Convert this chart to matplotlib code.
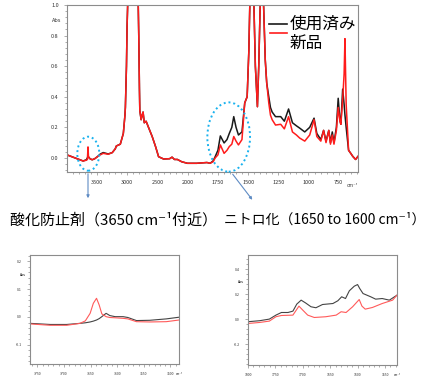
import numpy as np
import matplotlib.pyplot as plt
from matplotlib.patches import Ellipse
from matplotlib.ticker import FixedLocator, MultipleLocator, FormatStrFormatter

plt.rcParams['font.family'] = ['Noto Sans CJK JP', 'DejaVu Sans']

# ---- main spectrum ----
wn_main = [4000, 3900, 3800, 3733, 3680, 3662, 3652, 3644, 3620, 3583,
           3540, 3500, 3450, 3400, 3317, 3250, 3200, 3183, 3117, 3067,
           3040, 3033, 3015, 3005, 2995, 2820, 2811, 2800, 2794, 2772,
           2755, 2740, 2720, 2690, 2650, 2589, 2533, 2483, 2400, 2300,
           2260, 2220, 2172, 2100, 2005, 1926, 1841, 1815, 1790, 1773,
           1750, 1730, 1699, 1675, 1656, 1635, 1619, 1600, 1580, 1551,
           1528, 1508, 1494, 1486, 1452, 1440, 1423, 1412, 1400, 1372,
           1358, 1346, 1329, 1315, 1301, 1273, 1230, 1200, 1165, 1133,
           1100, 1073, 1031, 990, 954, 931, 898, 875, 855, 832,
           818, 803, 789, 769, 754, 740, 732, 717, 705, 698,
           688, 668, 650, 633, 610, 590]
abs_used = [0.02, 0.005, -0.01, -0.02, -0.012, 0.0, 0.012, 0.008, -0.005, -0.012,
            -0.005, 0.007, 0.025, 0.035, 0.026, 0.035, 0.06, 0.078, 0.09, 0.16,
            0.28, 0.33, 0.6, 0.86, 1.0, 1.0, 0.79, 0.45, 0.31, 0.25,
            0.28, 0.30, 0.23, 0.24, 0.20, 0.14, 0.074, 0.008, -0.007, -0.005,
            0.005, -0.01, -0.01, -0.025, -0.035, -0.035, -0.03, -0.035, -0.02, 0.008,
            0.05, 0.144, 0.098, 0.12, 0.16, 0.20, 0.27, 0.20, 0.15, 0.17,
            0.36, 0.40, 0.70, 1.0, 1.0, 0.6, 0.335, 0.6, 1.0, 1.0,
            0.64, 0.49, 0.40, 0.33, 0.30, 0.27, 0.27, 0.24, 0.32, 0.23,
            0.21, 0.195, 0.17, 0.20, 0.26, 0.16, 0.12, 0.18, 0.11, 0.18,
            0.10, 0.17, 0.10, 0.20, 0.39, 0.25, 0.22, 0.45, 0.35, 0.28,
            0.20, 0.05, 0.03, 0.01, -0.01, 0.01]
abs_new = [0.02, 0.005, -0.01, -0.02, -0.015, -0.01, 0.072, 0.005, -0.005, -0.012,
           -0.005, 0.007, 0.02, 0.03, 0.024, 0.035, 0.06, 0.078, 0.09, 0.16,
           0.28, 0.33, 0.6, 0.86, 1.0, 1.0, 0.79, 0.45, 0.31, 0.25,
           0.28, 0.30, 0.23, 0.24, 0.20, 0.14, 0.074, 0.008, -0.007, -0.005,
           0.005, -0.01, -0.01, -0.025, -0.035, -0.035, -0.03, -0.035, -0.025, 0.0,
           0.02, 0.085, 0.03, 0.05, 0.074, 0.09, 0.14, 0.11, 0.085, 0.12,
           0.36, 0.40, 0.70, 1.0, 1.0, 0.6, 0.335, 0.6, 1.0, 1.0,
           0.64, 0.49, 0.36, 0.28, 0.25, 0.215, 0.22, 0.19, 0.27, 0.17,
           0.15, 0.13, 0.11, 0.15, 0.25, 0.14, 0.11, 0.18, 0.10, 0.18,
           0.09, 0.15, 0.09, 0.18, 0.33, 0.24, 0.22, 0.38, 0.55, 0.78,
           0.35, 0.05, 0.03, 0.01, -0.01, 0.01]

# ---- zoom on the antioxidant band ----
wn_left = [3764, 3726, 3695, 3670, 3660, 3651, 3645, 3639, 3634, 3629,
           3621, 3614, 3604, 3589, 3580, 3564, 3539, 3508, 3484]
left_used = [-0.023, -0.027, -0.027, -0.023, -0.021, -0.018, -0.015, -0.011, -0.006, 0.001,
             0.013, 0.005, 0.001, 0.001, -0.002, -0.013, -0.012, -0.007, -0.001]
left_new = [-0.025, -0.03, -0.03, -0.023, -0.014, 0.013, 0.049, 0.067, 0.043, 0.011,
            0.001, -0.002, -0.003, -0.005, -0.007, -0.017, -0.018, -0.017, -0.011]

# ---- zoom on the nitration band ----
wn_right_used = [1800, 1779, 1761, 1749, 1739, 1727, 1718, 1711, 1703, 1695,
                 1685, 1676, 1664, 1645, 1636, 1629, 1622, 1615, 1606, 1600,
                 1596, 1590, 1576, 1567, 1555, 1542, 1528]
right_used = [-0.021, -0.013, 0.0, 0.032, 0.053, 0.053, 0.064, 0.12, 0.152, 0.13,
              0.099, 0.091, 0.117, 0.125, 0.147, 0.179, 0.165, 0.227, 0.264, 0.277,
              0.245, 0.205, 0.179, 0.16, 0.165, 0.152, 0.192]
wn_right_new = [1800, 1779, 1761, 1749, 1739, 1718, 1707, 1700, 1691, 1679,
                1658, 1639, 1630, 1621, 1609, 1597, 1592, 1586, 1573, 1555,
                1536, 1528]
right_new = [-0.035, -0.027, -0.016, 0.019, 0.029, 0.032, 0.104, 0.072, 0.032, 0.013,
             0.019, 0.032, 0.059, 0.053, 0.099, 0.157, 0.104, 0.08, 0.093, 0.125,
             0.152, 0.192]

main_ticks = [3500, 3000, 2500, 2000, 1750, 1500, 1250, 1000, 750]
left_xticks = [3750, 3700, 3650, 3600, 3550, 3500]
right_xticks = [1800, 1750, 1700, 1650, 1600, 1550]

C_USED = '#1a1a1a'
C_NEW = '#ff1c1c'
C_SPINE = '#8c8c8c'

W, H = 426, 378


def box(l, t, r, b):
    return [l / W, 1 - b / H, (r - l) / W, (b - t) / H]


def px(x, y):
    return (x / W, 1 - y / H)


# FTIR style x axis: scale doubles below 2000 cm-1
def fwd(x):
    x = np.asarray(x, dtype=float)
    return np.where(x >= 2000, x, 2 * x - 2000)


def inv(y):
    y = np.asarray(y, dtype=float)
    return np.where(y >= 2000, y, (y + 2000) / 2)


def style_axes(ax, fs):
    for sp in ax.spines.values():
        sp.set_color(C_SPINE)
        sp.set_linewidth(0.8)
    ax.tick_params(which='both', direction='out', colors=C_SPINE, width=0.5,
                   labelsize=fs, labelcolor='#333333', top=False, right=False)
    ax.tick_params(which='major', length=2.5)
    ax.tick_params(which='minor', length=1.5)


fig = plt.figure(figsize=(4.26, 3.78), dpi=100)

# main spectrum
ax = fig.add_axes(box(67, 5, 358, 172))
ax.set_xscale('function', functions=(fwd, inv))
ax.plot(wn_main, abs_used, color=C_USED, lw=1.1)
ax.plot(wn_main, abs_new, color=C_NEW, lw=1.1)
ax.set_xlim(4000, 590)
ax.set_ylim(-0.092, 1.0)
ax.xaxis.set_major_locator(FixedLocator(main_ticks))
ax.xaxis.set_minor_locator(FixedLocator(list(range(3900, 2000, -100)) + list(range(2000, 580, -50))))
ax.xaxis.set_major_formatter(FormatStrFormatter('%d'))
ax.yaxis.set_major_locator(MultipleLocator(0.2))
ax.yaxis.set_minor_locator(MultipleLocator(0.04))
ax.yaxis.set_major_formatter(FormatStrFormatter('%.1f'))
style_axes(ax, 4)
ax.text(-0.02, 0.91, 'Abs', transform=ax.transAxes, ha='right', va='center', fontsize=4, color='#333333')
ax.text(0.98, -0.065, 'cm⁻¹', transform=ax.transAxes, ha='center', va='top', fontsize=3.5, color='#333333')

# hand made legend
ax.plot([0.694, 0.756], [0.886, 0.886], transform=ax.transAxes, color=C_USED, lw=1.2)
ax.plot([0.699, 0.756], [0.832, 0.832], transform=ax.transAxes, color=C_NEW, lw=1.2)
ax.text(0.766, 0.886, '使用済み', transform=ax.transAxes, va='center', fontsize=12)
ax.text(0.766, 0.772, '新品', transform=ax.transAxes, va='center', fontsize=12)

# dotted circles + pointers
for cx, cy, w, h in [(88.3, 153.7, 22, 34), (228.7, 137, 42.7, 69.3)]:
    fig.add_artist(Ellipse(px(cx, cy), w / W, h / H, transform=fig.transFigure,
                           fill=False, ls=(0, (1, 1.5)), lw=1.4, ec='#1ab2ee'))
for (x0, y0), (x1, y1) in [((88, 171), (88, 201)), ((231, 172), (254, 202))]:
    ax.annotate('', xy=px(x1, y1), xytext=px(x0, y0), xycoords='figure fraction',
                textcoords='figure fraction',
                arrowprops=dict(arrowstyle='-|>', color='#5f8cc4', lw=0.8, mutation_scale=4))

fig.text(10 / W, 1 - 220 / H, '酸化防止剤（3650 cm⁻¹付近）', fontsize=10.8, va='center')
fig.text(224 / W, 1 - 220 / H, 'ニトロ化（1650 to 1600 cm⁻¹）', fontsize=10, va='center')

# antioxidant zoom
ax1 = fig.add_axes(box(30, 255, 179, 364))
ax1.plot(wn_left, left_used, color='#444444', lw=0.8)
ax1.plot(wn_left, left_new, color='#ff5a5a', lw=0.8)
ax1.set_xlim(3764, 3484)
ax1.set_ylim(-0.169, 0.2225)
ax1.xaxis.set_major_locator(FixedLocator(left_xticks))
ax1.xaxis.set_minor_locator(MultipleLocator(10))
ax1.yaxis.set_major_locator(FixedLocator([0.2, 0.1, 0.0, -0.1]))
ax1.yaxis.set_minor_locator(MultipleLocator(0.02))
ax1.yaxis.set_major_formatter(FormatStrFormatter('%.1f'))
style_axes(ax1, 2.5)
ax1.text(-0.03, 0.815, 'Abs', transform=ax1.transAxes, ha='right', va='center', fontsize=2.5)
ax1.text(1.0, -0.07, 'cm⁻¹', transform=ax1.transAxes, ha='center', va='top', fontsize=2.2)

# nitration zoom
ax2 = fig.add_axes(box(248, 255, 397, 365))
ax2.plot(wn_right_used, right_used, color='#444444', lw=0.8)
ax2.plot(wn_right_new, right_new, color='#ff5a5a', lw=0.8)
ax2.set_xlim(1800, 1528)
ax2.set_ylim(-0.368, 0.514)
ax2.xaxis.set_major_locator(FixedLocator(right_xticks))
ax2.xaxis.set_minor_locator(MultipleLocator(10))
ax2.yaxis.set_major_locator(FixedLocator([0.4, 0.2, 0.0, -0.2]))
ax2.yaxis.set_minor_locator(MultipleLocator(0.04))
ax2.yaxis.set_major_formatter(FormatStrFormatter('%.1f'))
style_axes(ax2, 2.5)
ax2.text(-0.03, 0.755, 'Abs', transform=ax2.transAxes, ha='right', va='center', fontsize=2.5)
ax2.text(1.0, -0.07, 'cm⁻¹', transform=ax2.transAxes, ha='center', va='top', fontsize=2.2)

plt.savefig('out.png', dpi=100)
